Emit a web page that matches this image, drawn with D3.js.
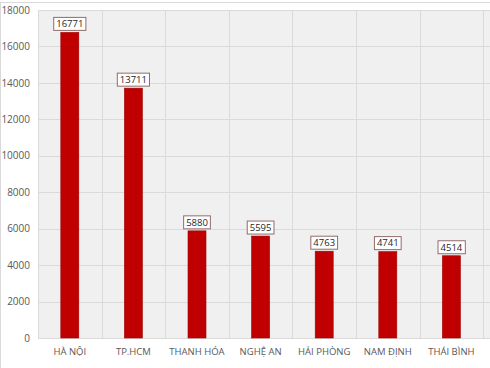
<!DOCTYPE html>
<html>
<head>
<meta charset="utf-8">
<script src="https://cdn.jsdelivr.net/npm/d3@7"></script>
<style>
  body { margin: 0; background: #fff; }
  svg { display: block; font-family: "Open Sans", "Noto Sans", sans-serif; }
</style>
</head>
<body>
<div id="chart"></div>
<script>
// data
const categories = ["HÀ NỘI", "TP.HCM", "THANH HÓA", "NGHỆ AN", "HẢI PHÒNG", "NAM ĐỊNH", "THÁI BÌNH", "HÀ TĨNH"];
const values = [16771, 13711, 5880, 5595, 4763, 4741, 4514];
const yTicks = [0, 2000, 4000, 6000, 8000, 10000, 12000, 14000, 16000, 18000];

const width = 490, height = 368;
const plot = { left: 38, top: 10, bottom: 338, step: 63.6 };

const svg = d3.select("#chart").append("svg")
    .attr("width", width)
    .attr("height", height);

// frame of the chart
svg.append("rect")
    .attr("x", 0.5).attr("y", 2.5)
    .attr("width", width + 10).attr("height", height)
    .attr("fill", "#fff")
    .attr("stroke", "#d9d9d9");

const x = d3.scaleBand()
    .domain(categories)
    .range([plot.left, plot.left + plot.step * categories.length])
    .paddingInner(0).paddingOuter(0);

const y = d3.scaleLinear()
    .domain([0, 18000])
    .range([plot.bottom, plot.top]);

// plot background
svg.append("rect")
    .attr("x", plot.left).attr("y", plot.top)
    .attr("width", x.range()[1] - plot.left)
    .attr("height", plot.bottom - plot.top)
    .attr("fill", "#f0f0f0");

// horizontal grid
svg.append("g")
    .selectAll("line")
    .data(yTicks)
    .join("line")
    .attr("x1", plot.left).attr("x2", x.range()[1])
    .attr("y1", d => Math.round(y(d)) + 0.5)
    .attr("y2", d => Math.round(y(d)) + 0.5)
    .attr("stroke", "#dadada");

// vertical grid at band edges
svg.append("g")
    .selectAll("line")
    .data(categories)
    .join("line")
    .attr("x1", d => Math.round(x(d)) + 0.5)
    .attr("x2", d => Math.round(x(d)) + 0.5)
    .attr("y1", plot.top).attr("y2", plot.bottom)
    .attr("stroke", "#dadada");

// y axis labels
const yAxis = d3.axisLeft(y).tickValues(yTicks).tickFormat(d3.format("d")).tickSize(0).tickPadding(8);
svg.append("g")
    .attr("transform", `translate(${plot.left},0)`)
    .call(yAxis)
    .call(g => g.select(".domain").remove())
    .call(g => g.selectAll("text")
        .attr("fill", "#595959")
        .attr("font-size", 10)
        .attr("font-family", "'Open Sans', sans-serif"));

// x axis labels
const xAxis = d3.axisBottom(x).tickSize(0).tickPadding(10);
svg.append("g")
    .attr("transform", `translate(0,${plot.bottom})`)
    .call(xAxis)
    .call(g => g.select(".domain").remove())
    .call(g => g.selectAll("text")
        .attr("fill", "#595959")
        .attr("font-size", 9.5)
        .attr("font-family", "'Open Sans', sans-serif"));

const barW = 18;
const data = values.map((v, i) => ({ name: categories[i], value: v }));

// bars
svg.append("g")
    .selectAll("rect")
    .data(data)
    .join("rect")
    .attr("x", d => x(d.name) + x.bandwidth() / 2 - barW / 2)
    .attr("y", d => y(d.value))
    .attr("width", barW)
    .attr("height", d => plot.bottom - y(d.value))
    .attr("fill", "#c00000")
    .attr("stroke", "#a00000")
    .attr("stroke-width", 0.6);

// value labels in boxes
const labels = svg.append("g")
    .selectAll("g")
    .data(data)
    .join("g")
    .attr("transform", d => `translate(${x(d.name) + x.bandwidth() / 2},${y(d.value) - 8.5})`);

labels.append("text")
    .attr("text-anchor", "middle")
    .attr("dy", "0.35em")
    .attr("font-size", 9.5)
    .attr("fill", "#262626")
    .text(d => d.value)
    .each(function() {
        const b = this.getBBox();
        d3.select(this.parentNode).insert("rect", "text")
            .attr("x", b.x - 2.5).attr("y", -6.5)
            .attr("width", b.width + 5).attr("height", 13)
            .attr("fill", "#fff")
            .attr("stroke", "#946b6b")
            .attr("stroke-width", 1);
    });
</script>
</body>
</html>
